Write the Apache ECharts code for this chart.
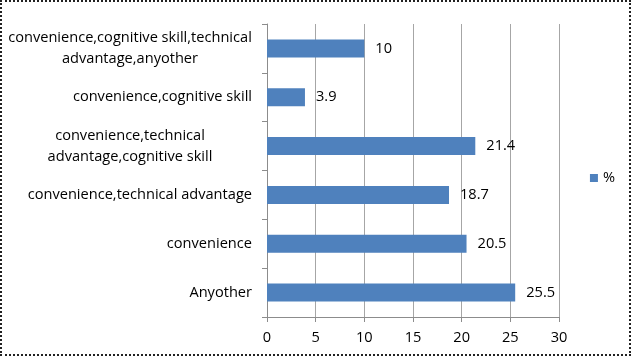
<!DOCTYPE html>
<html><head><meta charset="utf-8">
<script src="https://cdn.jsdelivr.net/npm/echarts@6/dist/echarts.min.js"></script>
<style>
html,body{margin:0;padding:0;background:#fff;}
#wrap{position:absolute;left:0;top:0;width:631px;height:356px;box-sizing:border-box;border:2px dotted #222;}
#c{position:absolute;left:0;top:0;width:631px;height:356px;}
</style></head>
<body>
<div id="c"></div><div id="wrap"></div>
<script>
const categories = [
  "Anyother",
  "convenience",
  "convenience,technical advantage",
  "convenience,technical\nadvantage,cognitive skill",
  "convenience,cognitive skill",
  "convenience,cognitive skill,technical\nadvantage,anyother"
];
const values = [25.5, 20.5, 18.7, 21.4, 3.9, 10];
const seriesName = "%";
const xTicks = [0, 5, 10, 15, 20, 25, 30];

const FONT = "'Open Sans', sans-serif";
const FS = 14.6;
const chart = echarts.init(document.getElementById('c'), null, {renderer:'canvas'});
chart.setOption({
  animation:false,
  grid:{left:267, right:72, top:24, bottom:39, containLabel:false},
  legend:{
    data:[seriesName], right:11, top:'middle', orient:'vertical',
    icon:'rect', itemWidth:8, itemHeight:8, itemGap:4,
    textStyle:{fontFamily:FONT, fontSize:FS, color:'#000'}
  },
  xAxis:{
    type:'value', min:xTicks[0], max:xTicks[xTicks.length-1], interval:5,
    axisLine:{show:true, lineStyle:{color:'#8c8c8c'}},
    axisTick:{show:true, length:5, lineStyle:{color:'#8c8c8c'}},
    axisLabel:{margin:13, fontFamily:FONT, fontSize:FS, color:'#000'},
    splitLine:{show:true, lineStyle:{color:'#a6a6a6'}}
  },
  yAxis:{
    type:'category', data:categories,
    axisLine:{show:true, lineStyle:{color:'#8c8c8c'}},
    axisTick:{show:true, length:5, lineStyle:{color:'#8c8c8c'}},
    axisLabel:{
      margin:15, fontFamily:FONT, fontSize:FS, color:'#000', lineHeight:21,
      formatter:function(v){ return v.indexOf('\n')>=0 ? v.split('\n').map(s=>'{c|'+s+'}').join('\n') : v; },
      rich:{c:{width:244, align:'center', fontFamily:FONT, fontSize:FS, color:'#000', lineHeight:21}}
    },
    splitLine:{show:false}
  },
  series:[{
    name:seriesName, type:'bar', data:values, barWidth:18,
    itemStyle:{color:'#4f81bd'},
    label:{show:true, position:'right', distance:11, fontFamily:FONT, fontSize:FS, color:'#000'}
  }]
});
</script>
</body></html>
